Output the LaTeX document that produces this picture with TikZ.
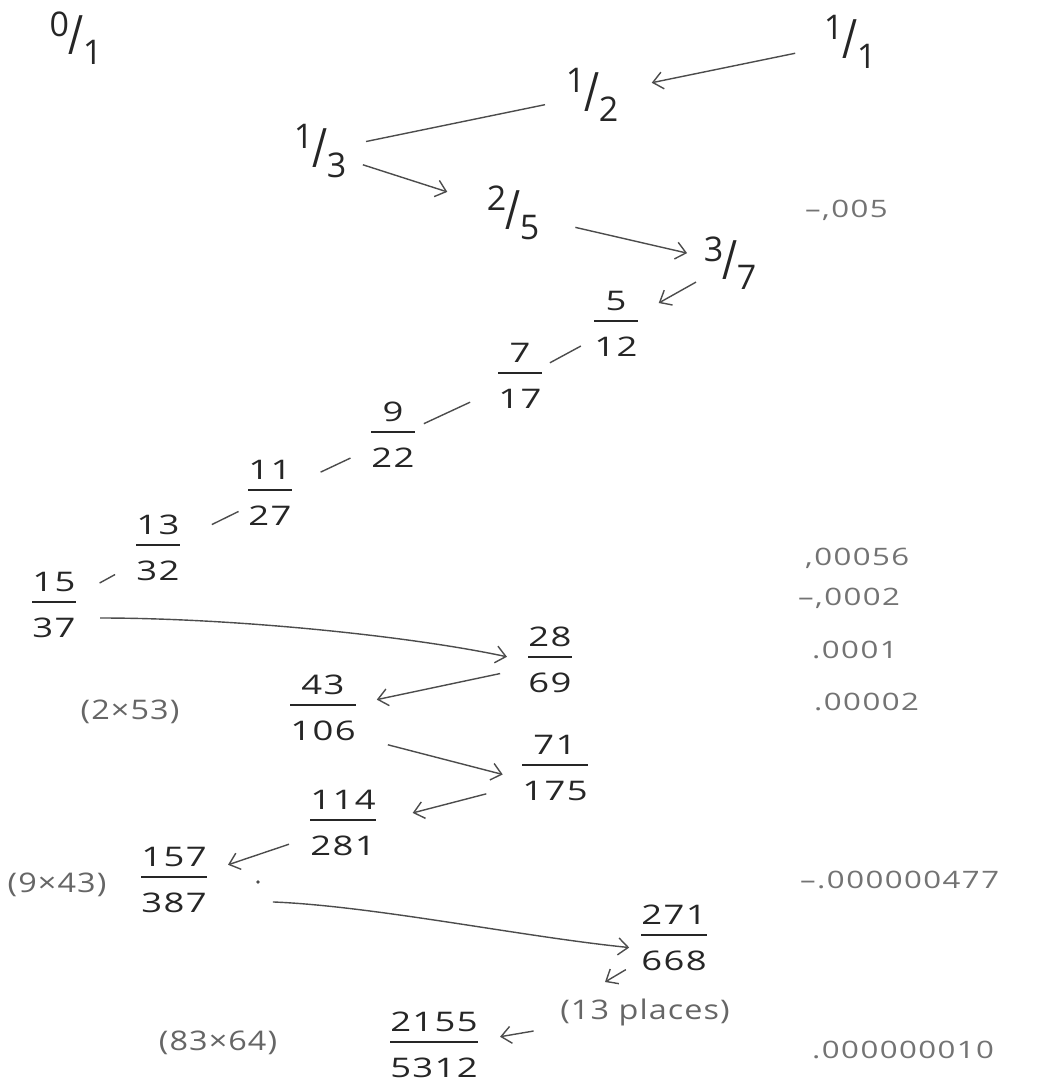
\documentclass[tikz,border=0pt]{standalone}
\usepackage{fontspec}
\usepackage{graphicx}
\setmainfont{Open Sans}
\newfontfamily\hand{Open Sans}[FakeStretch=1.35, LetterSpace=5]
\newfontfamily\handn{Open Sans}[FakeStretch=1.2, LetterSpace=4]
\newfontfamily\errfont{Open Sans}[FakeStretch=1.3, LetterSpace=6]
\usetikzlibrary{arrows.meta}
\setlength{\arrayrulewidth}{1.6pt}
\newcommand\fr[2]{{\setlength\tabcolsep{0pt}\begin{tabular}{c}#1\\\hline\rule{0pt}{34pt}#2\end{tabular}}}
\newcommand\sfr[2]{\raisebox{.42em}{#1}\kern-.02em\raisebox{-.12em}{\scalebox{1.2}[1.6]{/}}\kern-.02em\raisebox{-.42em}{#2}}
\begin{document}
\begin{tikzpicture}[x=1pt,y=-1pt,
  fnum/.style={font=\hand\fontsize{27}{32}\selectfont, inner sep=0pt, text=black!85},
  snum/.style={font=\fontsize{34}{36}\selectfont, inner sep=0pt, text=black!85},
  err/.style={font=\errfont\fontsize{24}{30}\selectfont, text=black!55, anchor=west, inner sep=0pt},
  note/.style={font=\handn\fontsize{27}{30}\selectfont, text=black!60, inner sep=0pt},
  arr/.style={draw=black!70, line width=1.4pt,
     -{Straight Barb[length=10pt,width=17pt,line width=1.4pt]}},
  ln/.style={draw=black!70, line width=1.4pt}]
\fill[white] (0,0) rectangle (1044,1082);
\useasboundingbox (0,0) rectangle (1044,1082);

% slash fractions
\node[snum] (a01) at (76,38) {\sfr{0}{1}};
\node[snum] (a11) at (850,42) {\sfr{1}{1}};
\node[snum] (a12) at (592,95) {\sfr{1}{2}};
\node[snum] (a13) at (320,151) {\sfr{1}{3}};
\node[snum] (a25) at (513,213) {\sfr{2}{5}};
\node[snum] (a37) at (730,263) {\sfr{3}{7}};

% stacked fractions
\node[fnum] (b512) at (616,327) {\fr{5}{12}};
\node[fnum] (b717) at (520,379) {\fr{7}{17}};
\node[fnum] (b922) at (393,438) {\fr{9}{22}};
\node[fnum] (b1127) at (270,496) {\fr{11}{27}};
\node[fnum] (b1332) at (158,551) {\fr{13}{32}};
\node[fnum] (b1537) at (54,608) {\fr{15}{37}};
\node[fnum] (c2869) at (550,663) {\fr{28}{69}};
\node[fnum] (c43106) at (323,711) {\fr{43}{106}};
\node[fnum] (c71175) at (555,771) {\fr{71}{175}};
\node[fnum] (c114281) at (343,826) {\fr{114}{281}};
\node[fnum] (c157387) at (174,883) {\fr{157}{387}};
\node[fnum] (c271668) at (674,941) {\fr{271}{668}};
\node[fnum] (c21555312) at (434,1048) {\fr{2155}{5312}};

% notes
\node[note] (m253) at (130,712) {(2×53)};
\node[note] (m943) at (57,885) {(9×43)};
\node[note] (m8364) at (218,1043) {(83×64)};
\node[note] (m13p) at (645,1012) {(13 places)};

% error column
\node[err] (e1) at (805,210) {–,005};
\node[err] (e2) at (805,558) {,00056};
\node[err] (e3) at (798,598) {–,0002};
\node[err] (e4) at (812,650) {.0001};
\node[err] (e5) at (814,702) {.00002};
\node[err] (e6) at (800,880) {–.000000477};
\node[err] (e7) at (812,1050) {.000000010};

% small dot
\fill[black!70] (258,882) circle (1.8pt);

% connectors
\draw[arr, shorten <=56pt, shorten >=61pt] (a11.center) -- (a12.center);
\draw[ln, shorten <=48pt, shorten >=47pt] (a12.center) -- (a13.center);
\draw[arr, shorten <=45pt, shorten >=69pt] (a13.center) -- (a25.center);
\draw[arr, shorten <=64pt, shorten >=44pt] (a25.center) -- (a37.center);
\draw[arr, shorten <=39pt, shorten >=49pt] (a37.center) -- (b512.center);
\draw[ln, shorten <=34pt, shorten >=40pt] (b717.center) -- (b512.center);
\draw[ln, shorten <=34pt, shorten >=55pt] (b922.center) -- (b717.center);
\draw[ln, shorten <=56pt, shorten >=47pt] (b1127.center) -- (b922.center);
\draw[ln, shorten <=60pt, shorten >=35pt] (b1332.center) -- (b1127.center);
\draw[ln, shorten <=52pt, shorten >=49pt] (b1537.center) -- (b1332.center);
\draw[arr, shorten <=46pt, shorten >=44pt] ([yshift=-10pt]b1537.center)
   .. controls +(180,0) and +(-140,-30) .. ([yshift=-3pt]c2869.center);
\draw[arr, shorten <=51pt, shorten >=55pt] (c2869.center) -- (c43106.center);
\draw[arr, shorten <=67pt, shorten >=54pt] ([yshift=-17pt]c43106.center) -- ([yshift=-17pt]c71175.center);
\draw[arr, shorten <=71pt, shorten >=72pt] ([yshift=-5pt]c71175.center) -- ([yshift=-5pt]c114281.center);
\draw[arr, shorten <=57pt, shorten >=57pt] (c114281.center) -- (c157387.center);
\draw[arr, shorten <=99pt, shorten >=45pt] ([yshift=-15pt]c157387.center)
   .. controls +(200,8) and +(-150,-15) .. ([yshift=-11pt]c271668.center);
\coordinate (k1) at (605,982);
\draw[arr, shorten <=56pt] (c271668.center) -- (k1);
\draw[arr, shorten <=113pt, shorten >=67pt] (m13p.center) -- (c21555312.center);
\end{tikzpicture}
\end{document}
